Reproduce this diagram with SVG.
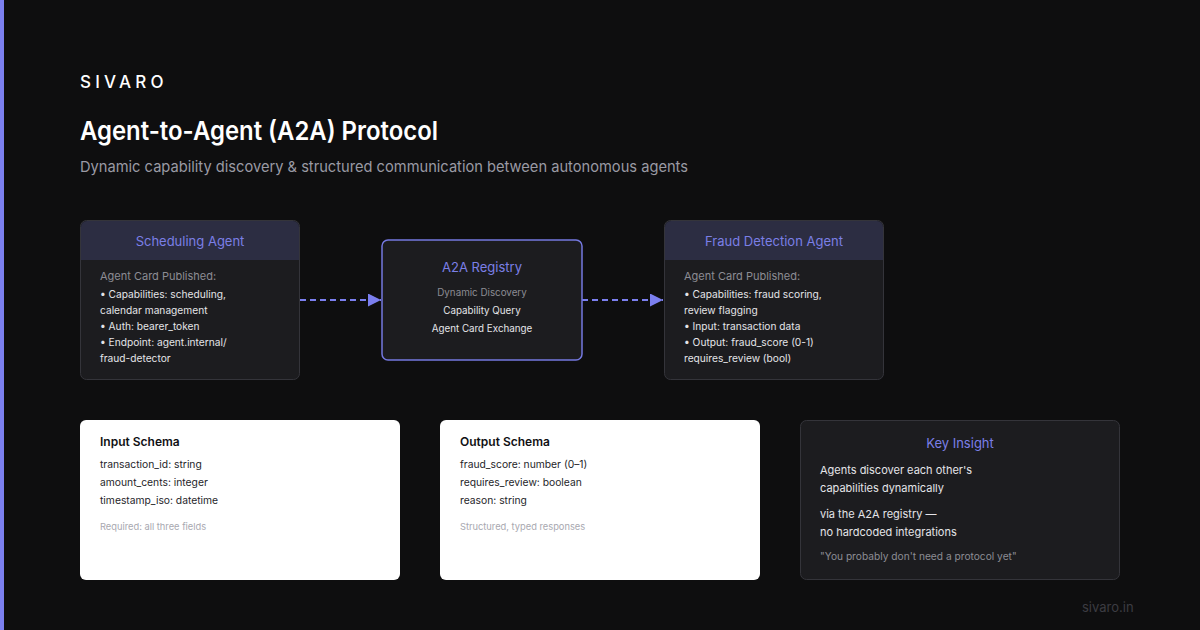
<svg xmlns="http://www.w3.org/2000/svg" width="1200" height="630" viewBox="0 0 1200 630">
<defs>
<style>
text{font-family:Inter,"Noto Sans","Liberation Sans",sans-serif}
.hdr{fill:#2c2d42}
.card{fill:#1c1c1f;stroke:#34343a;stroke-width:1}
.ht{fill:#7b7fe6;font-size:13px;text-anchor:middle}
.lbl{fill:#8c8c94;font-size:11px}
.ln{fill:#e4e4e8;font-size:10.2px}
.wbox{fill:#ffffff}
.wt{fill:#111114;font-size:12px;font-weight:600}
.wl{fill:#26262a;font-size:10.3px}
.wn{fill:#a8a8b0;font-size:9.3px}
.ki{fill:#e4e4e8;font-size:11px}
.conn{stroke:#7b7fef;stroke-width:2;stroke-dasharray:6 4;fill:none}
</style>
<marker id="ah" viewBox="0 0 10 10" refX="10" refY="5" markerWidth="13" markerHeight="13" markerUnits="userSpaceOnUse" orient="auto">
<path d="M0,0L10,5L0,10z" fill="#7b7fef"/>
</marker>
</defs>
<rect width="1200" height="630" fill="#0e0e0f"/>
<rect x="0" y="0" width="4" height="630" fill="#7b7fef"/>
<g id="header">
<text x="80" y="88" fill="#ffffff" font-size="17" font-weight="500" letter-spacing="4.2">SIVARO</text>
<text x="80" y="140" fill="#ffffff" font-size="26" font-weight="600" textLength="358" lengthAdjust="spacingAndGlyphs">Agent-to-Agent (A2A) Protocol</text>
<text x="80" y="172" fill="#9a9aa4" font-size="15" textLength="608" lengthAdjust="spacingAndGlyphs">Dynamic capability discovery &amp; structured communication between autonomous agents</text>
</g>
<g id="connectors">
<line class="conn" x1="300" y1="300" x2="381" y2="300" marker-end="url(#ah)"/>
<line class="conn" x1="582" y1="300" x2="663" y2="300" marker-end="url(#ah)"/>
</g>
<g id="scheduling-agent">
<rect class="card" x="80.5" y="220.5" width="219" height="159" rx="6"/>
<path class="hdr" d="M81,260V227a6,6 0 0 1 6,-6H293a6,6 0 0 1 6,6V260z"/>
<text class="ht" x="190" y="246">Scheduling Agent</text>
<text class="lbl" x="100" y="280">Agent Card Published:</text>
<text class="ln" x="100" y="298">• Capabilities: scheduling,</text>
<text class="ln" x="100" y="314">calendar management</text>
<text class="ln" x="100" y="330">• Auth: bearer_token</text>
<text class="ln" x="100" y="346">• Endpoint: agent.internal/</text>
<text class="ln" x="100" y="362">fraud-detector</text>
</g>
<g id="a2a-registry">
<rect x="382" y="240" width="200" height="120" rx="6" fill="#1c1c1f" stroke="#7478e0" stroke-width="1.5"/>
<text class="ht" x="482" y="272" font-size="12.5">A2A Registry</text>
<text x="482" y="296" fill="#8c8c94" font-size="9.8" text-anchor="middle">Dynamic Discovery</text>
<text x="482" y="314" fill="#e4e4e8" font-size="9.8" text-anchor="middle">Capability Query</text>
<text x="482" y="332" fill="#e4e4e8" font-size="9.8" text-anchor="middle">Agent Card Exchange</text>
</g>
<g id="fraud-agent">
<rect class="card" x="664.5" y="220.5" width="219" height="159" rx="6"/>
<path class="hdr" d="M665,260V227a6,6 0 0 1 6,-6H877a6,6 0 0 1 6,6V260z"/>
<text class="ht" x="774" y="246">Fraud Detection Agent</text>
<text class="lbl" x="684" y="280">Agent Card Published:</text>
<text class="ln" x="684" y="298">• Capabilities: fraud scoring,</text>
<text class="ln" x="684" y="314">review flagging</text>
<text class="ln" x="684" y="330">• Input: transaction data</text>
<text class="ln" x="684" y="346">• Output: fraud_score (0-1)</text>
<text class="ln" x="684" y="362">requires_review (bool)</text>
</g>
<g id="input-schema">
<rect class="wbox" x="80" y="420" width="320" height="160" rx="6"/>
<text class="wt" x="100" y="446">Input Schema</text>
<text class="wl" x="100" y="468">transaction_id: string</text>
<text class="wl" x="100" y="486">amount_cents: integer</text>
<text class="wl" x="100" y="504">timestamp_iso: datetime</text>
<text class="wn" x="100" y="530">Required: all three fields</text>
</g>
<g id="output-schema">
<rect class="wbox" x="440" y="420" width="320" height="160" rx="6"/>
<text class="wt" x="460" y="446">Output Schema</text>
<text class="wl" x="460" y="468">fraud_score: number (0–1)</text>
<text class="wl" x="460" y="486">requires_review: boolean</text>
<text class="wl" x="460" y="504">reason: string</text>
<text class="wn" x="460" y="530">Structured, typed responses</text>
</g>
<g id="key-insight">
<rect class="card" x="800.5" y="420.5" width="319" height="159" rx="6"/>
<text class="ht" x="960" y="448" font-size="12">Key Insight</text>
<text class="ki" x="820" y="474">Agents discover each other's</text>
<text class="ki" x="820" y="492">capabilities dynamically</text>
<text class="ki" x="820" y="518">via the A2A registry —</text>
<text class="ki" x="820" y="536">no hardcoded integrations</text>
<text x="820" y="560" fill="#8c8c94" font-size="10.2">"You probably don't need a protocol yet"</text>
</g>
<text x="1082" y="612" fill="#3c3c42" font-size="13">sivaro.in</text>
</svg>
